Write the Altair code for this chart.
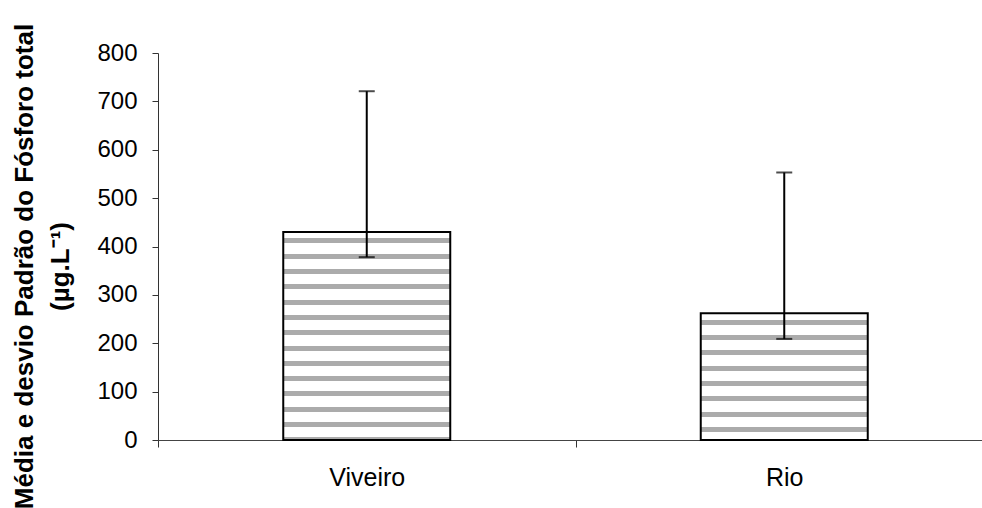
import altair as alt
import pandas as pd

# ---- data ----
categorias = ["Viveiro", "Rio"]
medias = [430, 262]
superior = [721, 553]
inferior = [378, 209]

df = pd.DataFrame({
    "cat": categorias,
    "media": medias,
    "sup": superior,
    "inf": inferior,
})

# ---- style constants ----
FONT = "Liberation Sans"
PLOT_W = 823
PLOT_H = 387
Y_MAX = 800
PX_PER_UNIT = PLOT_H / Y_MAX
STRIPE_GAP = 15.3
STRIPE_THICK = 5.0
STRIPE_START = 6.5
STRIPE_COLOR = "#ababab"


def hatch(value):
    h = value * PX_PER_UNIT
    stops = [alt.GradientStop(offset=0, color="white")]
    pos = STRIPE_START
    while pos < h - 1:
        a = pos / h
        b = min((pos + STRIPE_THICK) / h, 1.0)
        stops += [
            alt.GradientStop(offset=a, color="white"),
            alt.GradientStop(offset=a, color=STRIPE_COLOR),
            alt.GradientStop(offset=b, color=STRIPE_COLOR),
            alt.GradientStop(offset=b, color="white"),
        ]
        pos += STRIPE_GAP
    stops.append(alt.GradientStop(offset=1, color="white"))
    return alt.LinearGradient(gradient="linear", stops=stops, x1=0, x2=0, y1=0, y2=1)


x_enc = alt.X(
    "cat:N",
    sort=categorias,
    scale=alt.Scale(range=[0, 835], paddingInner=0, paddingOuter=0),
    axis=alt.Axis(
        title=None,
        labelAngle=0,
        labelFont=FONT,
        labelFontSize=25,
        labelColor="black",
        labelBaseline="alphabetic",
        labelPadding=38,
        tickBand="extent",
        tickSize=7,
        tickColor="#333333",
        domainColor="#444444",
        grid=False,
    ),
)

y_scale = alt.Scale(domain=[0, Y_MAX], nice=False)
y_axis = alt.Axis(
    values=list(range(0, 801, 100)),
    tickSize=6,
    tickColor="#333333",
    domainColor="#333333",
    labelPadding=15,
    labelFont=FONT,
    labelFontSize=24,
    labelColor="black",
    grid=False,
    title=["Média e desvio Padrão do Fósforo total", "(µg.L⁻¹)"],
    titleFont=FONT,
    titleFontSize=26,
    titleFontWeight="bold",
    titleColor="black",
    titleAngle=270,
    titleAlign="center",
    titleBaseline="alphabetic",
    titleLineHeight=36,
    titleX=-126,
    titleY=213,
)

base = alt.Chart(df)

bars = []
for c, m in zip(categorias, medias):
    bars.append(
        base.transform_filter(alt.datum.cat == c)
        .mark_bar(fill=hatch(m), stroke="black", strokeWidth=2, width={"band": 0.4})
        .encode(x=x_enc, y=alt.Y("media:Q", scale=y_scale, axis=y_axis))
    )

rule = base.mark_rule(color="black", strokeWidth=2).encode(
    x=alt.X("cat:N", sort=categorias),
    y=alt.Y("inf:Q", scale=y_scale),
    y2="sup:Q",
)

cap_top = base.mark_tick(color="black", thickness=2, size=16).encode(
    x=alt.X("cat:N", sort=categorias),
    y=alt.Y("sup:Q", scale=y_scale),
)
cap_bot = base.mark_tick(color="black", thickness=2, size=16).encode(
    x=alt.X("cat:N", sort=categorias),
    y=alt.Y("inf:Q", scale=y_scale),
)

chart = (
    alt.layer(*bars, rule, cap_top, cap_bot)
    .properties(
        width=PLOT_W,
        height=PLOT_H,
        autosize=alt.AutoSizeParams(type="none"),
        padding={"left": 158, "top": 53, "right": 1, "bottom": 68},
        background="white",
    )
    .configure_view(stroke=None)
)

chart.save("out.html", embed_options={"renderer": "svg", "actions": False})
